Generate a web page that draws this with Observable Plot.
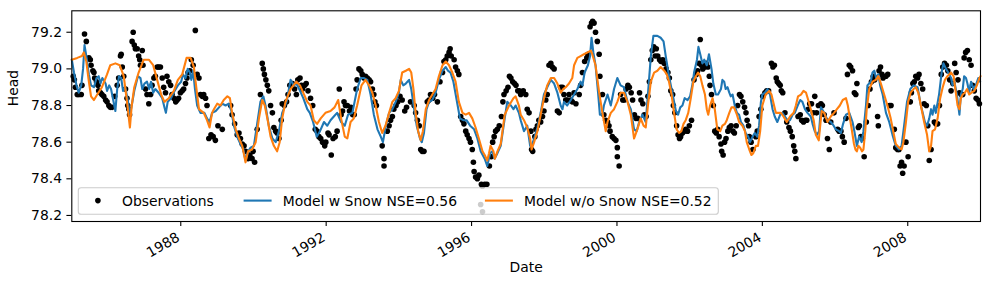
<!DOCTYPE html>
<html>
<head>
<meta charset="utf-8">
<script src="https://cdn.jsdelivr.net/npm/d3@7"></script>
<script src="https://cdn.jsdelivr.net/npm/@observablehq/plot@0.6"></script>
<style>
  html, body { margin: 0; padding: 0; background: #fff; }
  #wrap { position: relative; width: 990px; height: 290px; }
  #wrap svg { position: absolute; left: 0; top: 0; }
</style>
</head>
<body>
<div id="wrap"></div>
<script>
// Groundwater head: observed values and two model runs (decimal year, head)
const observations = [
  [1985.04,78.96],[1985.07,78.94],[1985.10,78.90],[1985.15,78.86],[1985.19,78.86],[1985.26,78.86],[1985.28,78.91],[1985.35,79.19],[1985.40,79.15],[1985.47,79.06],[1985.51,79.05],[1985.53,79.02],[1985.58,78.99],[1985.61,78.98],[1985.63,78.95],[1985.68,78.93],[1985.72,78.91],[1985.74,78.88],[1985.79,78.87],[1985.83,78.86],[1985.88,78.85],[1985.93,78.83],[1985.97,78.82],[1986.02,78.80],[1986.06,78.79],[1986.11,78.79],[1986.18,78.85],[1986.25,78.91],[1986.29,78.95],[1986.34,79.07],[1986.36,79.08],[1986.39,79.01],[1986.43,78.96],[1986.48,78.89],[1986.52,78.84],[1986.54,78.80],[1986.57,78.78],[1986.59,78.75],[1986.66,79.15],[1986.69,79.20],[1986.72,79.13],[1986.75,79.11],[1986.80,79.11],[1986.84,79.07],[1986.87,79.05],[1986.89,79.02],[1986.94,79.10],[1986.96,79.02],[1987.03,78.89],[1987.07,78.86],[1987.12,78.81],[1987.17,78.86],[1987.21,78.91],[1987.26,78.95],[1987.30,78.96],[1987.35,79.01],[1987.39,79.01],[1987.44,79.01],[1987.49,78.95],[1987.53,78.90],[1987.58,78.87],[1987.62,78.96],[1987.67,78.93],[1987.72,78.91],[1987.76,78.86],[1987.81,78.84],[1987.86,78.82],[1987.90,78.83],[1987.94,78.84],[1987.99,78.87],[1988.04,78.88],[1988.08,78.89],[1988.13,78.92],[1988.17,78.95],[1988.20,78.98],[1988.25,78.99],[1988.29,79.05],[1988.34,79.02],[1988.40,79.21],[1988.45,78.97],[1988.50,78.95],[1988.54,78.86],[1988.59,78.85],[1988.63,78.86],[1988.68,78.84],[1988.72,78.80],[1988.77,78.62],[1988.83,78.64],[1988.89,78.63],[1988.95,78.61],[1989.02,78.69],
  [1989.14,78.67],[1989.37,78.80],[1989.41,78.75],[1989.48,78.70],[1989.55,78.64],[1989.60,78.65],[1989.64,78.62],[1989.69,78.59],[1989.74,78.58],[1989.78,78.55],[1989.85,78.51],[1989.90,78.53],[1989.96,78.51],[1989.99,78.55],[1990.03,78.49],[1990.10,78.67],[1990.19,78.86],[1990.24,79.03],[1990.27,79.00],[1990.30,78.97],[1990.34,78.94],[1990.38,78.91],[1990.42,78.88],[1990.47,78.80],[1990.52,78.76],[1990.56,78.68],[1990.61,78.66],[1990.65,78.65],[1990.70,78.62],[1990.76,78.72],[1990.79,78.81],[1990.85,78.80],[1990.91,78.82],[1990.95,78.86],[1991.00,78.91],[1991.07,78.92],[1991.13,78.89],[1991.18,78.86],[1991.22,78.94],[1991.28,78.95],[1991.32,78.91],[1991.35,78.89],[1991.41,78.91],[1991.45,78.92],[1991.50,78.88],[1991.57,78.84],[1991.63,78.80],[1991.70,78.67],[1991.75,78.66],[1991.80,78.63],[1991.85,78.62],[1991.90,78.60],[1991.96,78.58],[1991.99,78.60],[1992.05,78.65],[1992.08,78.64],[1992.14,78.53],[1992.19,78.62],[1992.25,78.63],[1992.30,78.66],[1992.36,78.89],[1992.41,78.75],[1992.45,78.77],[1992.49,78.82],[1992.53,78.80],[1992.58,78.80],[1992.64,78.77],[1992.68,78.79],[1992.73,78.75],[1992.77,78.75],[1992.82,78.89],[1992.85,78.94],[1992.90,79.00],[1992.95,78.99],[1992.99,78.97],[1993.04,78.95],[1993.08,78.96],[1993.13,78.95],[1993.18,78.94],
  [1993.22,78.93],[1993.27,78.89],[1993.31,78.86],[1993.34,78.82],[1993.38,78.80],[1993.54,78.58],[1993.59,78.51],[1993.59,78.47],[1993.68,78.66],[1993.73,78.69],[1993.77,78.72],[1993.82,78.74],[1993.86,78.78],[1993.92,78.80],[1993.97,78.82],[1994.03,78.85],[1994.09,78.83],[1994.16,78.77],[1994.21,78.79],[1994.32,78.82],[1994.42,78.80],[1994.46,78.76],[1994.51,78.72],[1994.56,78.69],[1994.60,78.56],[1994.64,78.55],[1994.69,78.55],[1994.78,78.82],[1994.83,78.83],[1994.87,78.86],[1994.93,78.84],[1994.98,78.86],[1995.06,78.82],[1995.13,78.93],[1995.20,78.98],[1995.24,79.04],[1995.29,79.05],[1995.33,79.07],[1995.38,79.09],[1995.41,79.11],[1995.44,79.07],[1995.52,79.05],[1995.56,79.01],[1995.61,78.99],[1995.65,78.97],[1995.70,78.74],[1995.75,78.72],[1995.79,78.70],[1995.84,78.66],[1995.88,78.64],[1995.93,78.62],[1995.97,78.60],[1996.02,78.56],[1996.05,78.49],[1996.07,78.44],[1996.11,78.41],[1996.16,78.40],[1996.20,78.42],[1996.25,78.26],[1996.27,78.37],[1996.30,78.36],[1996.30,78.22],[1996.36,78.37],[1996.42,78.37],[1996.49,78.47],[1996.54,78.52],[1996.58,78.60],[1996.62,78.63],[1996.66,78.66],[1996.71,78.67],[1996.76,78.69],[1996.82,78.74],[1996.86,78.82],[1996.89,78.86],[1996.95,78.88],[1997.00,78.90],[1997.04,78.96],[1997.08,78.95],[1997.13,78.93],[1997.18,78.92],[1997.22,78.91],[1997.27,78.88],[1997.31,78.88],[1997.35,78.86],
  [1997.42,78.88],[1997.49,78.86],[1997.53,78.78],[1997.58,78.76],[1997.63,78.66],[1997.65,78.56],[1997.68,78.55],[1997.74,78.63],[1997.77,78.67],[1997.81,78.69],[1997.85,78.72],[1997.90,78.71],[1997.95,78.74],[1997.99,78.77],[1998.04,78.83],[1998.08,78.86],[1998.13,79.02],[1998.18,79.03],[1998.22,79.01],[1998.27,79.00],[1998.36,78.77],[1998.41,78.76],[1998.45,78.90],[1998.50,78.90],[1998.54,78.86],[1998.59,78.83],[1998.63,78.83],[1998.68,78.86],[1998.73,78.83],[1998.77,78.82],[1998.82,78.87],[1998.87,78.81],[1998.96,78.86],[1999.00,78.91],[1999.05,78.98],[1999.11,79.04],[1999.17,79.06],[1999.20,79.08],[1999.26,79.23],[1999.30,79.25],[1999.33,79.26],[1999.37,79.25],[1999.41,79.20],[1999.46,79.15],[1999.51,79.08],[1999.53,78.96],[1999.60,78.86],[1999.64,78.75],[1999.69,78.72],[1999.74,78.71],[1999.78,78.69],[1999.81,78.66],[1999.87,78.63],[1999.92,78.62],[1999.97,78.61],[2000.01,78.57],[2000.01,78.52],[2000.06,78.47],[2000.10,78.86],[2000.16,78.83],[2000.20,78.83],[2000.25,78.89],[2000.30,78.91],[2000.34,78.90],[2000.39,78.87],[2000.43,78.83],[2000.48,78.75],[2000.52,78.73],[2000.57,78.73],[2000.62,78.87],[2000.66,78.83],[2000.71,78.81],[2000.75,78.75],[2000.80,78.74],[2000.85,78.85],[2000.89,78.93],[2000.93,79.05],[2000.97,79.10],[2001.01,79.12],[2001.05,79.07],[2001.08,79.11],[2001.12,79.07],[2001.17,79.05],[2001.21,79.04],[2001.26,79.05],[2001.30,79.03],[2001.35,79.00],[2001.40,78.98],[2001.44,78.95],
  [2001.48,78.88],[2001.53,78.86],[2001.55,78.80],[2001.59,78.76],[2001.64,78.69],[2001.68,78.64],[2001.72,78.62],[2001.75,78.63],[2001.80,78.65],[2001.85,78.66],[2001.89,78.67],[2001.94,78.66],[2001.99,78.69],[2002.05,78.72],[2002.12,78.94],[2002.18,78.97],[2002.22,78.99],[2002.26,79.03],[2002.29,79.16],[2002.32,79.02],[2002.36,79.00],[2002.41,79.01],[2002.45,79.03],[2002.50,79.01],[2002.54,78.96],[2002.56,78.91],[2002.60,78.86],[2002.65,78.80],[2002.69,78.66],[2002.73,78.65],[2002.77,78.67],[2002.81,78.63],[2002.86,78.59],[2002.88,78.55],[2002.92,78.53],[2002.96,78.60],[2003.00,78.62],[2003.05,78.66],[2003.09,78.68],[2003.14,78.69],[2003.19,78.66],[2003.23,78.65],[2003.28,78.69],[2003.32,78.80],[2003.37,78.86],[2003.41,78.85],[2003.46,78.82],[2003.51,78.79],[2003.55,78.76],[2003.58,78.72],[2003.62,78.69],[2003.64,78.63],[2003.69,78.60],[2003.74,78.56],[2003.82,78.63],[2003.86,78.66],[2003.91,78.74],[2003.96,78.78],[2004.01,78.85],[2004.07,78.87],[2004.12,78.88],[2004.17,78.88],[2004.25,79.03],[2004.29,79.01],[2004.33,79.02],[2004.38,78.95],[2004.41,78.93],[2004.45,78.92],[2004.49,78.91],[2004.52,78.88],[2004.56,78.87],[2004.62,78.76],[2004.67,78.71],[2004.73,78.68],[2004.77,78.66],[2004.82,78.63],[2004.86,78.58],[2004.89,78.55],[2004.92,78.51],[2004.98,78.74],[2005.04,78.75],[2005.08,78.72],[2005.13,78.71],[2005.18,78.72],[2005.22,78.72],[2005.26,78.78],[2005.30,78.81],[2005.35,78.81],[2005.40,78.76],[2005.44,78.85],[2005.49,78.76],[2005.54,78.80],
  [2005.61,78.81],[2005.65,78.80],[2005.70,78.75],[2005.75,78.72],[2005.79,78.62],[2005.84,78.56],[2005.88,78.71],[2005.97,78.76],[2006.07,78.67],[2006.11,78.66],[2006.16,78.66],[2006.20,78.63],[2006.25,78.60],[2006.30,78.73],[2006.34,78.97],[2006.39,79.02],[2006.43,79.01],[2006.48,78.99],[2006.53,78.87],[2006.57,78.86],[2006.60,78.92],[2006.64,78.68],[2006.67,78.69],[2006.71,78.63],[2006.75,78.62],[2006.80,78.52],[2006.86,78.71],[2006.91,78.80],[2006.96,78.89],[2007.00,78.93],[2007.05,78.96],[2007.09,78.94],[2007.17,78.74],[2007.19,78.69],[2007.21,78.99],[2007.25,79.01],[2007.29,78.97],[2007.32,78.95],[2007.40,78.96],[2007.45,78.97],[2007.50,78.80],[2007.54,78.80],[2007.63,78.67],[2007.67,78.57],[2007.72,78.56],[2007.76,78.56],[2007.79,78.47],[2007.83,78.49],[2007.86,78.43],[2007.90,78.47],[2007.95,78.60],[2008.01,78.52],[2008.07,78.82],[2008.10,78.87],[2008.14,78.92],[2008.18,78.93],[2008.22,78.96],[2008.27,78.95],[2008.31,78.97],[2008.36,78.92],[2008.41,78.89],[2008.45,78.81],[2008.51,78.80],[2008.55,78.69],[2008.59,78.50],[2008.64,78.56],[2008.73,78.71],[2008.77,78.70],[2008.82,78.70],[2008.87,78.80],[2008.92,78.97],[2008.96,79.01],[2009.01,79.03],[2009.06,79.02],[2009.10,78.99],[2009.15,78.94],[2009.19,78.88],[2009.24,78.92],[2009.29,79.03],[2009.33,78.98],[2009.38,78.94],[2009.42,78.87],[2009.47,78.86],[2009.51,78.86],[2009.55,79.06],[2009.59,79.09],[2009.64,79.10],[2009.69,79.05],[2009.74,79.02],[2009.78,78.91],[2009.83,78.88],[2009.88,78.84],[2009.93,78.83],[2009.97,78.81]
];

const modelWithSnow = [
  [1985.00,79.05],[1985.06,78.98],[1985.13,78.91],[1985.19,78.87],[1985.26,78.91],[1985.31,79.00],[1985.35,79.13],[1985.40,79.07],[1985.47,78.97],[1985.53,78.91],[1985.61,78.90],[1985.68,78.95],[1985.74,78.96],[1985.79,78.92],[1985.84,78.95],[1985.93,78.92],[1985.97,78.88],[1986.03,78.91],[1986.08,78.89],[1986.14,78.83],[1986.20,78.77],[1986.25,78.89],[1986.30,78.96],[1986.36,78.95],[1986.41,78.88],[1986.47,78.90],[1986.54,78.83],[1986.60,78.75],[1986.65,78.80],[1986.72,78.88],[1986.82,78.96],[1986.89,78.95],[1986.94,78.89],[1987.00,78.92],[1987.07,78.93],[1987.13,78.89],[1987.18,78.93],[1987.24,78.87],[1987.30,78.89],[1987.39,78.87],[1987.49,78.84],[1987.55,78.79],[1987.59,78.76],[1987.64,78.82],[1987.73,78.84],[1987.83,78.88],[1987.92,78.91],[1988.01,78.93],[1988.06,78.97],[1988.13,78.95],[1988.19,79.00],[1988.25,78.98],[1988.29,78.94],[1988.34,78.99],[1988.39,78.89],[1988.45,78.80],[1988.54,78.76],[1988.65,78.76],[1988.72,78.73],[1988.79,78.71],[1988.86,78.76],
  [1988.96,78.77],[1989.05,78.79],[1989.14,78.81],[1989.23,78.80],[1989.32,78.81],[1989.39,78.77],[1989.46,78.69],[1989.55,78.63],[1989.64,78.59],[1989.72,78.56],[1989.78,78.50],[1989.85,78.55],[1989.92,78.57],[1990.01,78.58],[1990.10,78.70],[1990.19,78.82],[1990.27,78.85],[1990.33,78.80],[1990.42,78.69],[1990.52,78.62],[1990.61,78.60],[1990.70,78.66],[1990.79,78.76],[1990.91,78.82],[1991.02,78.94],[1991.11,78.91],[1991.18,78.92],[1991.28,78.88],[1991.37,78.84],[1991.48,78.78],[1991.55,78.76],[1991.64,78.71],[1991.74,78.63],[1991.83,78.66],[1991.94,78.71],[1992.03,78.69],[1992.12,78.72],[1992.21,78.74],[1992.30,78.76],[1992.41,78.71],[1992.51,78.69],[1992.60,78.75],[1992.72,78.76],[1992.85,78.89],[1992.95,78.95],
  [1993.04,78.95],[1993.13,78.94],[1993.22,78.86],[1993.31,78.75],[1993.41,78.67],[1993.50,78.63],[1993.56,78.60],[1993.63,78.68],[1993.73,78.76],[1993.82,78.78],[1993.91,78.82],[1994.00,78.87],[1994.05,78.94],[1994.12,78.91],[1994.19,78.92],[1994.28,78.94],[1994.34,78.89],[1994.42,78.78],[1994.49,78.69],[1994.58,78.62],[1994.63,78.60],[1994.69,78.65],[1994.76,78.78],[1994.83,78.82],[1994.92,78.83],[1995.01,78.87],[1995.10,78.94],[1995.20,78.99],[1995.29,79.01],[1995.35,78.99],[1995.42,78.98],[1995.50,78.93],[1995.59,78.83],[1995.68,78.73],[1995.77,78.72],[1995.86,78.72],[1995.96,78.69],[1996.07,78.67],[1996.16,78.62],[1996.25,78.55],[1996.36,78.51],[1996.43,78.47],[1996.51,78.54],[1996.57,78.55],[1996.63,78.51],[1996.71,78.54],[1996.80,78.58],[1996.91,78.73],[1996.98,78.82],[1997.08,78.80],[1997.15,78.78],[1997.21,78.80],[1997.30,78.76],
  [1997.35,78.72],[1997.44,78.66],[1997.53,78.69],[1997.61,78.58],[1997.65,78.58],[1997.72,78.62],[1997.81,78.68],[1997.90,78.76],[1997.99,78.86],[1998.08,78.90],[1998.18,78.94],[1998.27,78.92],[1998.36,78.87],[1998.45,78.80],[1998.50,78.78],[1998.54,78.82],[1998.63,78.80],[1998.73,78.83],[1998.82,78.86],[1998.91,78.89],[1999.00,78.93],[1999.05,78.91],[1999.11,78.98],[1999.20,79.02],[1999.26,79.07],[1999.30,79.17],[1999.35,79.09],[1999.41,79.02],[1999.48,78.87],[1999.53,78.75],[1999.60,78.75],[1999.64,78.80],[1999.74,78.86],[1999.83,78.80],[1999.92,78.89],[2000.01,78.95],[2000.10,78.91],[2000.19,78.90],[2000.29,78.82],[2000.38,78.78],[2000.47,78.67],[2000.54,78.66],[2000.61,78.71],[2000.70,78.75],[2000.79,78.71],[2000.85,78.86],[2000.93,79.07],[2001.00,79.18],[2001.11,79.18],[2001.20,79.17],[2001.28,79.15],
  [2001.34,79.07],[2001.43,78.96],[2001.53,78.86],[2001.62,78.77],[2001.68,78.75],[2001.74,78.79],[2001.80,78.80],[2001.86,78.84],[2001.94,78.83],[2002.01,78.85],[2002.08,78.92],[2002.12,78.98],[2002.20,79.05],[2002.24,79.12],[2002.29,79.08],[2002.35,79.03],[2002.40,79.05],[2002.47,79.02],[2002.53,79.08],[2002.60,79.00],[2002.65,78.92],[2002.72,78.86],[2002.78,78.86],[2002.86,78.89],[2002.90,78.94],[2002.95,78.93],[2002.99,78.89],[2003.04,78.90],[2003.09,78.87],[2003.13,78.85],[2003.18,78.86],[2003.24,78.80],[2003.30,78.76],[2003.36,78.75],[2003.41,78.71],[2003.48,78.69],[2003.54,78.65],[2003.61,78.63],[2003.66,78.60],[2003.73,78.63],[2003.79,78.65],[2003.86,78.63],[2003.91,78.69],[2003.96,78.82],[2004.00,78.86],[2004.07,78.87],[2004.14,78.89],[2004.21,78.86],[2004.28,78.78],[2004.34,78.74],[2004.41,78.71],[2004.49,78.75],[2004.55,78.76],[2004.62,78.74],[2004.69,78.72],[2004.76,78.72],[2004.83,78.75],[2004.89,78.76],[2004.97,78.80],[2005.04,78.83],[2005.10,78.82],[2005.17,78.78],[2005.24,78.76],[2005.33,78.74],[2005.38,78.70],[2005.44,78.66],[2005.50,78.64],[2005.56,78.66],
  [2005.61,78.79],[2005.70,78.76],[2005.79,78.72],[2005.88,78.71],[2005.96,78.69],[2006.02,78.67],[2006.11,78.66],[2006.16,78.65],[2006.22,78.70],[2006.30,78.75],[2006.39,78.76],[2006.48,78.71],[2006.53,78.66],[2006.60,78.58],[2006.66,78.63],[2006.73,78.60],[2006.78,78.66],[2006.85,78.80],[2006.89,78.91],[2006.98,78.93],[2007.03,78.98],[2007.08,78.99],[2007.13,78.95],[2007.19,78.97],[2007.24,78.91],[2007.31,78.86],[2007.40,78.76],[2007.49,78.71],[2007.58,78.64],[2007.67,78.58],[2007.76,78.56],[2007.83,78.58],[2007.90,78.69],[2007.98,78.82],[2008.07,78.89],[2008.16,78.91],[2008.27,78.90],[2008.36,78.80],[2008.41,78.76],[2008.47,78.71],[2008.53,78.69],[2008.59,78.73],[2008.64,78.78],[2008.68,78.75],[2008.73,78.80],[2008.77,78.76],[2008.86,78.86],[2008.93,78.98],[2008.98,79.03],[2009.05,79.00],[2009.11,78.98],[2009.19,78.95],[2009.23,78.91],[2009.28,78.93],[2009.35,78.86],[2009.42,78.75],[2009.46,78.86],[2009.51,78.89],[2009.55,78.96],[2009.60,78.95],[2009.64,78.92],[2009.69,78.87],[2009.74,78.93],[2009.81,78.89],[2009.87,78.91],[2009.94,78.95],[2009.99,78.93]
];

const modelWithoutSnow = [
  [1985.00,79.05],[1985.15,79.06],[1985.28,79.07],[1985.33,79.09],[1985.40,79.04],[1985.47,78.93],[1985.53,78.85],[1985.61,78.83],[1985.70,78.86],[1985.83,78.90],[1985.97,78.97],[1986.06,79.02],[1986.20,79.03],[1986.32,79.02],[1986.43,78.96],[1986.52,78.82],[1986.60,78.68],[1986.65,78.80],[1986.72,78.90],[1986.84,78.98],[1986.98,79.05],[1987.12,79.05],[1987.24,79.02],[1987.35,78.94],[1987.46,78.86],[1987.55,78.82],[1987.67,78.84],[1987.81,78.88],[1987.92,78.94],[1988.04,78.97],[1988.16,79.06],[1988.27,79.06],[1988.36,79.01],[1988.45,78.86],[1988.50,78.78],[1988.63,78.76],[1988.72,78.72],[1988.79,78.68],[1988.86,78.76],
  [1988.91,78.78],[1989.00,78.81],[1989.09,78.80],[1989.18,78.83],[1989.28,78.85],[1989.35,78.84],[1989.41,78.76],[1989.51,78.67],[1989.60,78.62],[1989.69,78.58],[1989.78,78.49],[1989.85,78.55],[1989.96,78.56],[1990.06,78.60],[1990.15,78.73],[1990.24,78.83],[1990.31,78.80],[1990.40,78.71],[1990.47,78.63],[1990.56,78.58],[1990.65,78.55],[1990.72,78.60],[1990.79,78.73],[1990.88,78.82],[1991.02,78.89],[1991.18,78.93],[1991.28,78.91],[1991.39,78.86],[1991.48,78.82],[1991.57,78.80],[1991.66,78.72],[1991.75,78.70],[1991.85,78.73],[1991.98,78.76],[1992.12,78.77],[1992.23,78.79],[1992.33,78.83],[1992.41,78.73],[1992.51,78.63],[1992.58,78.62],[1992.67,78.71],[1992.76,78.73],[1992.85,78.80],[1992.97,78.91],
  [1993.08,78.94],[1993.18,78.91],[1993.27,78.87],[1993.36,78.80],[1993.45,78.71],[1993.54,78.65],[1993.63,78.69],[1993.73,78.76],[1993.82,78.82],[1993.91,78.84],[1994.00,78.88],[1994.09,78.98],[1994.19,78.99],[1994.28,79.00],[1994.34,78.98],[1994.40,78.89],[1994.46,78.76],[1994.53,78.66],[1994.60,78.61],[1994.66,78.66],[1994.74,78.78],[1994.83,78.83],[1994.92,78.86],[1995.01,78.89],[1995.10,78.96],[1995.20,79.02],[1995.29,79.04],[1995.38,79.02],[1995.47,78.98],[1995.56,78.93],[1995.65,78.82],[1995.75,78.76],[1995.84,78.75],[1995.93,78.76],[1996.02,78.73],[1996.11,78.68],[1996.20,78.62],[1996.30,78.55],[1996.36,78.53],[1996.43,78.50],[1996.48,78.54],[1996.52,78.58],[1996.60,78.55],[1996.64,78.51],[1996.71,78.55],[1996.80,78.59],[1996.91,78.75],[1997.03,78.80],[1997.15,78.84],[1997.21,78.85],[1997.30,78.80],
  [1997.35,78.75],[1997.44,78.72],[1997.53,78.68],[1997.61,78.62],[1997.65,78.56],[1997.72,78.60],[1997.81,78.66],[1997.90,78.75],[1997.99,78.84],[1998.08,78.91],[1998.18,78.95],[1998.27,78.95],[1998.36,78.92],[1998.45,78.87],[1998.52,78.89],[1998.59,78.90],[1998.68,78.92],[1998.77,78.95],[1998.82,79.02],[1998.91,79.06],[1999.00,79.07],[1999.09,79.08],[1999.19,79.09],[1999.28,79.10],[1999.32,79.08],[1999.41,79.02],[1999.51,78.87],[1999.60,78.76],[1999.69,78.66],[1999.74,78.71],[1999.83,78.76],[1999.92,78.78],[2000.01,78.82],[2000.10,78.87],[2000.19,78.87],[2000.29,78.82],[2000.38,78.75],[2000.47,78.62],[2000.56,78.67],[2000.65,78.73],[2000.73,78.69],[2000.79,78.68],[2000.85,78.80],[2000.93,78.93],[2001.02,78.98],[2001.11,78.99],[2001.20,79.01],
  [2001.30,78.99],[2001.37,78.97],[2001.43,78.93],[2001.50,78.86],[2001.57,78.76],[2001.64,78.67],[2001.71,78.65],[2001.77,78.66],[2001.83,78.70],[2001.89,78.72],[2001.96,78.76],[2002.03,78.84],[2002.10,78.93],[2002.17,78.96],[2002.23,78.98],[2002.29,78.96],[2002.35,78.91],[2002.42,78.86],[2002.47,78.78],[2002.51,78.75],[2002.56,78.80],[2002.63,78.84],[2002.69,78.78],[2002.76,78.67],[2002.84,78.66],[2002.90,78.69],[2002.97,78.70],[2003.02,78.72],[2003.09,78.76],[2003.15,78.79],[2003.22,78.79],[2003.30,78.75],[2003.36,78.71],[2003.45,78.69],[2003.52,78.66],[2003.57,78.60],[2003.64,78.56],[2003.70,78.53],[2003.75,78.54],[2003.82,78.58],[2003.88,78.58],[2003.94,78.66],[2004.00,78.80],[2004.09,78.86],[2004.19,78.88],[2004.25,78.86],[2004.31,78.81],[2004.37,78.76],[2004.43,78.76],[2004.51,78.76],[2004.58,78.74],[2004.67,78.71],[2004.76,78.74],[2004.86,78.76],[2004.92,78.80],[2004.98,78.85],[2005.06,78.86],[2005.13,78.88],[2005.20,78.87],[2005.26,78.83],[2005.33,78.78],[2005.41,78.72],[2005.47,78.64],[2005.55,78.61],
  [2005.63,78.77],[2005.70,78.76],[2005.79,78.71],[2005.88,78.74],[2005.97,78.76],[2006.05,78.78],[2006.13,78.80],[2006.21,78.83],[2006.30,78.84],[2006.35,78.80],[2006.39,78.75],[2006.45,78.68],[2006.52,78.59],[2006.56,78.56],[2006.60,78.55],[2006.64,78.58],[2006.69,78.57],[2006.74,78.55],[2006.78,78.56],[2006.83,78.66],[2006.87,78.78],[2006.94,78.89],[2007.03,78.93],[2007.12,78.94],[2007.19,78.96],[2007.26,78.92],[2007.35,78.86],[2007.44,78.80],[2007.53,78.73],[2007.61,78.65],[2007.67,78.59],[2007.76,78.57],[2007.83,78.56],[2007.88,78.60],[2007.95,78.71],[2008.01,78.82],[2008.08,78.87],[2008.16,78.89],[2008.22,78.90],[2008.29,78.87],[2008.36,78.80],[2008.45,78.71],[2008.53,78.64],[2008.59,78.55],[2008.64,78.58],[2008.68,78.66],[2008.75,78.67],[2008.82,78.73],[2008.89,78.84],[2008.96,78.90],[2009.02,78.94],[2009.09,78.96],[2009.19,78.98],[2009.26,78.96],[2009.32,78.87],[2009.37,78.80],[2009.42,78.78],[2009.46,78.84],[2009.51,78.86],[2009.57,78.87],[2009.63,78.89],[2009.69,78.86],[2009.75,78.87],[2009.83,78.88],[2009.90,78.91],[2009.97,78.95],[2010.00,78.96]
];

const headTicks = [78.2, 78.4, 78.6, 78.8, 79.0, 79.2];
const yearTicks = [1988, 1992, 1996, 2000, 2004, 2008];
const seriesNames = ["Observations", "Model w Snow NSE=0.56", "Model w/o Snow NSE=0.52"];
const seriesColors = ["#000000", "#1f77b4", "#ff7f0e"];

// decimal year -> UTC date
function yearToDate(y) {
  const yr = Math.floor(y);
  const t0 = Date.UTC(yr, 0, 1), t1 = Date.UTC(yr + 1, 0, 1);
  return new Date(t0 + (y - yr) * (t1 - t0));
}

const FONT = "DejaVu Sans, Liberation Sans, sans-serif";
const FS = 13.9;

const chart = Plot.plot({
  width: 990,
  height: 290,
  marginLeft: 71.3,
  marginRight: 10,
  marginTop: 10.3,
  marginBottom: 69,
  style: {fontFamily: FONT, fontSize: FS + "px", color: "black", background: "white", overflow: "visible"},
  x: {type: "utc", domain: [yearToDate(1985), yearToDate(2010)]},
  y: {domain: [78.167, 79.317]},
  marks: [
    Plot.dot(observations, {x: d => yearToDate(d[0]), y: d => d[1], r: 2.8, fill: seriesColors[0], stroke: null}),
    Plot.line(modelWithSnow, {x: d => yearToDate(d[0]), y: d => d[1], stroke: seriesColors[1], strokeWidth: 2.1, strokeLinejoin: "round"}),
    Plot.line(modelWithoutSnow, {x: d => yearToDate(d[0]), y: d => d[1], stroke: seriesColors[2], strokeWidth: 2.1, strokeLinejoin: "round"}),
    Plot.frame({stroke: "black", strokeWidth: 1.1}),
    Plot.axisY({ticks: headTicks, tickSize: 4.9, tickPadding: 4.9, tickFormat: d3.format(".1f"), label: null, strokeWidth: 1.1}),
    Plot.axisX({ticks: yearTicks.map(yearToDate), tickSize: 4.9, tickFormat: () => "", label: null, strokeWidth: 1.1}),
    Plot.text(yearTicks, {x: yearToDate, frameAnchor: "bottom", text: d => String(d), rotate: -30, textAnchor: "end", lineAnchor: "top", dx: -5, dy: 10}),
    Plot.text(["Head"], {frameAnchor: "left", text: d => d, rotate: -90, dx: -57.8, dy: -10}),
    Plot.text(["Date"], {frameAnchor: "bottom", text: d => d, dy: 50})
  ]
});

const wrap = document.getElementById("wrap");
wrap.appendChild(chart);

// legend box in the lower-left corner of the axes
const ns = "http://www.w3.org/2000/svg";
const leg = document.createElementNS(ns, "svg");
leg.setAttribute("width", 990);
leg.setAttribute("height", 290);
leg.style.pointerEvents = "none";
leg.style.fontFamily = FONT;
leg.style.fontSize = FS + "px";
function el(name, attrs, text) {
  const e = document.createElementNS(ns, name);
  for (const k in attrs) e.setAttribute(k, attrs[k]);
  if (text) e.textContent = text;
  leg.appendChild(e);
  return e;
}
el("rect", {x: 78.3, y: 187.7, width: 640, height: 26.6, rx: 2.8, fill: "rgba(255,255,255,0.8)", stroke: "#cccccc", "stroke-width": 1.1});
const cy = 200.6;
el("circle", {cx: 97.9, cy, r: 2.8, fill: seriesColors[0]});
el("text", {x: 122, y: cy + 5, fill: "black"}, seriesNames[0]);
el("line", {x1: 243.6, x2: 271.6, y1: cy, y2: cy, stroke: seriesColors[1], "stroke-width": 2.1});
el("text", {x: 282.7, y: cy + 5, fill: "black"}, seriesNames[1]);
el("line", {x1: 484.9, x2: 512.9, y1: cy, y2: cy, stroke: seriesColors[2], "stroke-width": 2.1});
el("text", {x: 524, y: cy + 5, fill: "black"}, seriesNames[2]);
wrap.appendChild(leg);
</script>
</body>
</html>
